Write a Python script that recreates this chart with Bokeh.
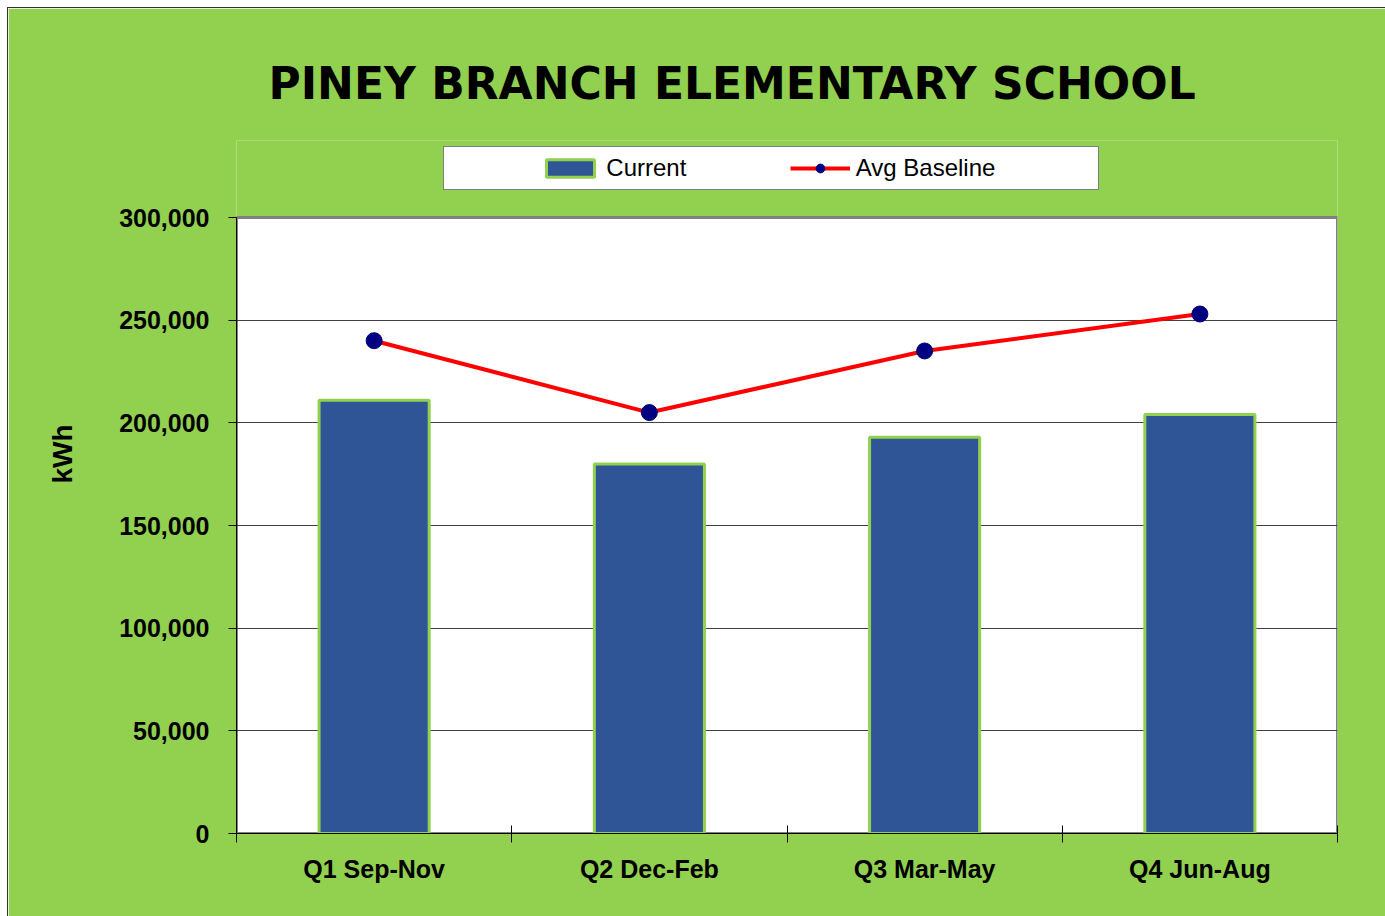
from bokeh.plotting import figure
from bokeh.models import Range1d, FixedTicker, NumeralTickFormatter, Legend, LegendItem, Title
from bokeh.embed import file_html
from bokeh.resources import INLINE

# ---- data ----
categories = ["Q1 Sep-Nov", "Q2 Dec-Feb", "Q3 Mar-May", "Q4 Jun-Aug"]
current = [211000, 180000, 193000, 204000]
baseline = [240000, 205000, 235000, 253000]
y_ticks = [0, 50000, 100000, 150000, 200000, 250000, 300000]
title_text = "PINEY BRANCH ELEMENTARY SCHOOL"
y_label = "kWh"
series_names = ["Current", "Avg Baseline"]

n = len(categories)
centers = [i + 0.5 for i in range(n)]
edges = list(range(n + 1))
y_top = y_ticks[-1]
y_max = y_top * 1.125          # head room inside the frame for the legend

GREEN = "#92D050"
BLUE = "#2F5597"
FONT = "Liberation Sans"

W, H = 1377, 908
p = figure(width=W, height=H, output_backend="svg", toolbar_location=None,
           x_range=Range1d(0, n), y_range=Range1d(0, y_max),
           min_border_left=227, min_border_right=48,
           min_border_top=132, min_border_bottom=83)

p.styles = {"margin-left": "8px", "margin-top": "8px",
            "outline": "1px solid #333333"}
p.border_fill_color = GREEN
p.background_fill_color = GREEN
p.outline_line_color = None

# title
p.title.text = title_text
p.title.text_font = "DejaVu Sans"
p.title.text_font_style = "bold"
p.title.text_font_size = "44px"
p.title.text_color = "black"
p.title.align = "left"
p.title.offset = 32
p.title.standoff = 63

# white plot area
area = p.quad(left=[edges[0]], right=[edges[-1]], bottom=[y_ticks[0]], top=[y_top],
              fill_color="white", line_color="#808080", line_width=3)
area.level = "image"

# axes
p.yaxis.bounds = (y_ticks[0], y_top)
p.yaxis.ticker = FixedTicker(ticks=y_ticks)
p.yaxis.formatter = NumeralTickFormatter(format="0,0")
p.yaxis.major_label_text_font = FONT
p.yaxis.major_label_text_font_style = "bold"
p.yaxis.major_label_text_font_size = "25px"
p.yaxis.major_label_text_color = "black"
p.yaxis.major_tick_out = 8
p.yaxis.major_tick_in = 0
p.yaxis.minor_tick_line_color = None
p.yaxis.major_label_standoff = 19
p.yaxis.axis_line_color = "black"
p.yaxis.major_tick_line_color = "black"

# y axis title, aligned with the 0..300,000 part of the axis
ylab = Title(text=y_label, align="left", vertical_align="middle",
             offset=350, standoff=75, text_font=FONT, text_font_style="bold",
             text_font_size="28px", text_color="black")
p.add_layout(ylab, "left")

p.xaxis.ticker = FixedTicker(ticks=centers, minor_ticks=edges)
p.xaxis.major_label_overrides = {c: cat for c, cat in zip(centers, categories)}
p.xaxis.major_tick_line_color = None
p.xaxis.major_tick_out = 0
p.xaxis.major_tick_in = 0
p.xaxis.minor_tick_line_color = "black"
p.xaxis.minor_tick_out = 9
p.xaxis.minor_tick_in = 8
p.xaxis.axis_line_color = "black"
p.xaxis.major_label_standoff = 12
p.xaxis.major_label_text_font = FONT
p.xaxis.major_label_text_font_style = "bold"
p.xaxis.major_label_text_font_size = "25px"
p.xaxis.major_label_text_color = "black"

p.xgrid.visible = False
p.ygrid.ticker = FixedTicker(ticks=y_ticks[1:-1])
p.ygrid.grid_line_color = "#404040"
p.ygrid.grid_line_width = 1

# glyphs
bars = p.vbar(x=centers, top=current, width=0.4, fill_color=BLUE,
              line_color=GREEN, line_width=3)
line_r = p.line(centers, baseline, line_color="#FF0000", line_width=4)
pts = p.scatter(centers, baseline, size=16, fill_color="#000080",
                line_color="#000080")
blank = p.scatter(x=[], y=[], size=0, fill_alpha=0, line_alpha=0)

SP = "\u00a0"
leg = Legend(items=[LegendItem(label=SP * 2, renderers=[blank]),
                    LegendItem(label=series_names[0] + SP * 14, renderers=[bars]),
                    LegendItem(label=series_names[1], renderers=[line_r, pts]),
                    LegendItem(label=SP * 3, renderers=[blank])],
             location=(207, 643), orientation="horizontal",
             padding=7, spacing=10,
             glyph_width=60, glyph_height=22,
             label_standoff=6, label_height=22, label_width=0,
             label_text_font=FONT, label_text_font_size="24px",
             label_text_color="black",
             background_fill_color="white", background_fill_alpha=1,
             border_line_color="black", border_line_width=1.5)
p.add_layout(leg, "center")

open("out.html", "w").write(file_html(p, INLINE))
